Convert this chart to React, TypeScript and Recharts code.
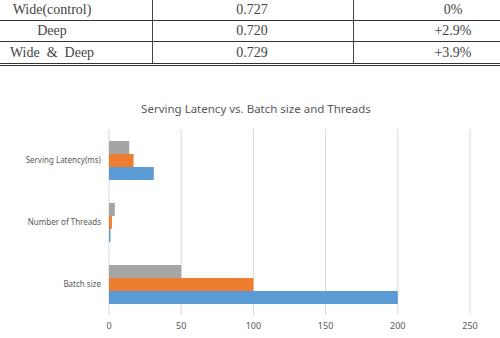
import { BarChart, Bar, XAxis, YAxis, CartesianGrid } from 'recharts'

// table above the chart
const tableRows = ['Wide(control)', 'Deep', 'Wide  &  Deep']
const tableAuc = ['0.727', '0.720', '0.729']
const tableGain = ['0%', '+2.9%', '+3.9%']

// chart
const categories = ['Serving Latency(ms)', 'Number of Threads', 'Batch size']
const series1 = [31, 1, 200]
const series2 = [17, 2, 100]
const series3 = [14, 4, 50]
const xTicks = [0, 50, 100, 150, 200, 250]

const chartData = categories.map((name, i) => ({
  name,
  s1: series1[i],
  s2: series2[i],
  s3: series3[i],
}))

const rowCenters = [10, 31, 53]
const colLefts = [-48, 152, 353]

function ResultTable() {
  const cellText = (txt: string, col: number, row: number) => (
    <div
      key={col + '-' + row}
      style={{
        position: 'absolute',
        left: colLefts[col],
        width: 200,
        top: rowCenters[row] - 9,
        height: 18,
        lineHeight: '18px',
        textAlign: 'center',
        fontFamily: '"Liberation Serif", serif',
        fontSize: 14,
        color: '#444',
        whiteSpace: 'pre',
      }}
    >
      {txt}
    </div>
  )
  const hLine = (y: number) => (
    <div key={'h' + y} style={{ position: 'absolute', left: 0, top: y, width: 500, height: 1, background: '#333' }} />
  )
  const vLine = (x: number) => (
    <div key={'v' + x} style={{ position: 'absolute', left: x, top: 0, width: 1, height: 63, background: '#444' }} />
  )
  return (
    <>
      {tableRows.map((t, i) => cellText(t, 0, i))}
      {tableAuc.map((t, i) => cellText(t, 1, i))}
      {tableGain.map((t, i) => cellText(t, 2, i))}
      {hLine(20)}
      {hLine(41)}
      {hLine(63)}
      {hLine(65)}
      {vLine(152)}
      {vLine(353)}
    </>
  )
}

function CategoryTick({ x, y, payload }: any) {
  return (
    <text
      x={x}
      y={y}
      dy={3}
      textAnchor="end"
      fontSize={8}
      fill="#595959"
      fontFamily='"Noto Sans", sans-serif'
    >
      {payload.value}
    </text>
  )
}

export default function App() {
  return (
    <div style={{ position: 'relative', width: 500, height: 338, background: '#fff', overflow: 'hidden' }}>
      <style>{`body{margin:0}`}</style>
      <ResultTable />
      <div
        style={{
          position: 'absolute',
          top: 101,
          left: 0,
          width: 512,
          textAlign: 'center',
          fontFamily: '"Noto Sans", sans-serif',
          fontSize: 11.5,
          color: '#595959',
        }}
      >
        Serving Latency vs. Batch size and Threads
      </div>
      <div style={{ position: 'absolute', top: 0, left: 0 }}>
        <BarChart
          width={500}
          height={338}
          data={chartData}
          layout="vertical"
          margin={{ top: 129, right: 30, bottom: 3, left: 0 }}
          barGap={0}
          barCategoryGap={12}
        >
          <CartesianGrid horizontal={false} stroke="#d9d9d9" />
          <XAxis
            type="number"
            domain={[0, 250]}
            ticks={xTicks}
            axisLine={false}
            tickLine={false}
            height={20}
            tick={{ fontSize: 9, fill: '#595959', fontFamily: '"Noto Sans", sans-serif' }}
          />
          <YAxis
            type="category"
            dataKey="name"
            width={109}
            axisLine={false}
            tickLine={false}
            tickSize={0}
            tickMargin={8}
            tick={<CategoryTick />}
          />
          <Bar dataKey="s3" fill="#a5a5a5" isAnimationActive={false} />
          <Bar dataKey="s2" fill="#ed7d31" isAnimationActive={false} />
          <Bar dataKey="s1" fill="#5b9bd5" isAnimationActive={false} />
        </BarChart>
      </div>
    </div>
  )
}
